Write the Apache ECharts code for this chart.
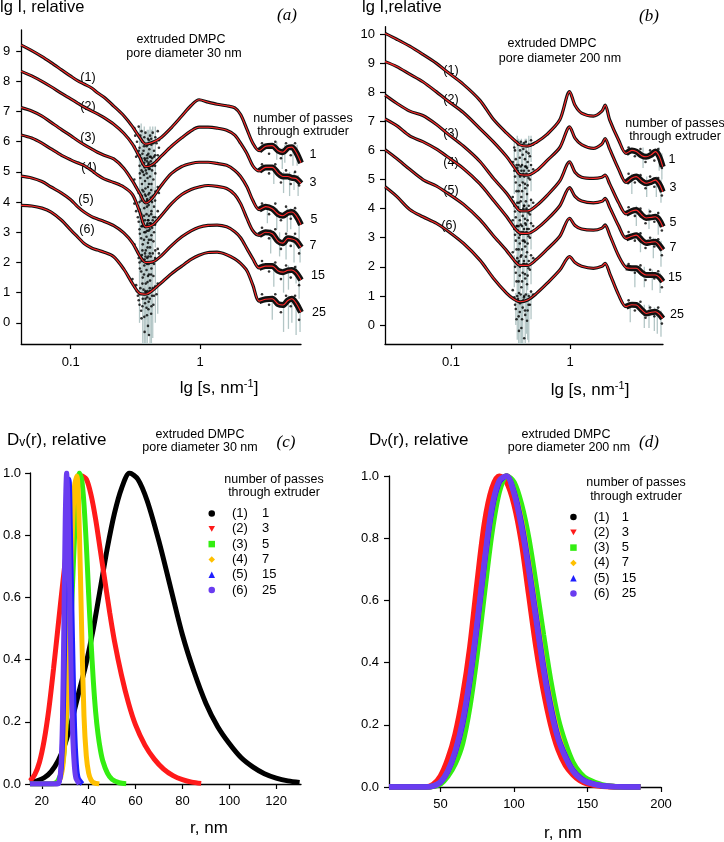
<!DOCTYPE html>
<html><head><meta charset="utf-8">
<script src="https://cdn.jsdelivr.net/npm/echarts@6/dist/echarts.min.js"></script>
<style>html,body{margin:0;padding:0;background:#fff}#chart{width:724px;height:842px}</style>
</head><body><div id="chart"></div>
<script>
const FONT = '"Liberation Sans", Arial, sans-serif';

// ---------- panel (a): extruded DMPC, pore 30 nm ----------
const sA = [0.0415,0.05,0.06,0.0706,0.085,0.1,0.113,0.127,0.145,0.161,0.181,0.215,0.257,0.3,0.34,0.38,0.43,0.5,0.6,0.72,0.85,0.98,1.15,1.35,1.6,1.85,2.05,2.3,2.55,2.85,3.2,3.6,4.0,4.35,4.75,5.1,5.5,6.0];
const a1 = [9.20,9.02,8.82,8.62,8.38,8.17,8.02,7.91,7.78,7.62,7.47,7.18,6.86,6.50,6.15,5.92,5.98,6.14,6.47,6.85,7.20,7.39,7.31,7.24,7.19,7.12,6.90,6.40,5.95,5.70,5.85,5.87,5.70,5.65,5.80,5.82,5.65,5.30];
const a2 = [8.33,8.18,8.00,7.82,7.60,7.42,7.28,7.15,7.02,6.92,6.80,6.58,6.28,5.92,5.50,5.17,5.25,5.52,5.85,6.13,6.36,6.48,6.48,6.45,6.38,6.22,5.95,5.60,5.20,5.03,5.15,5.15,4.95,4.85,4.85,4.80,4.78,4.62];
const a3 = [7.13,7.02,6.85,6.64,6.40,6.20,6.04,5.90,5.76,5.65,5.55,5.43,5.12,4.70,4.30,3.97,4.15,4.55,4.95,5.18,5.28,5.32,5.32,5.28,5.22,5.05,4.85,4.50,4.05,3.75,3.85,3.78,3.60,3.55,3.65,3.67,3.55,3.25];
const a4 = [6.22,6.12,5.95,5.76,5.55,5.40,5.30,5.21,5.05,4.90,4.77,4.65,4.50,4.25,3.70,3.18,3.25,3.55,3.95,4.25,4.42,4.50,4.55,4.52,4.45,4.25,3.95,3.45,3.05,2.90,3.00,2.95,2.70,2.64,2.80,2.78,2.72,2.50];
const a5 = [4.86,4.80,4.68,4.50,4.30,4.08,3.85,3.67,3.52,3.44,3.36,3.22,2.98,2.65,2.23,2.00,2.02,2.22,2.56,2.85,3.05,3.17,3.23,3.24,3.18,3.02,2.82,2.45,2.12,1.82,1.88,1.88,1.72,1.68,1.74,1.75,1.66,1.42];
const a6 = [3.89,3.87,3.80,3.67,3.40,3.08,2.85,2.63,2.48,2.41,2.34,2.19,1.78,1.30,0.98,0.95,1.08,1.33,1.63,1.88,2.10,2.24,2.33,2.34,2.26,2.12,1.97,1.72,1.25,0.72,0.78,0.80,0.62,0.59,0.74,0.80,0.65,0.35];
const noiseA = [
[0.33,6.25],[0.34,5.8],[0.345,6.2],[0.35,5.45],[0.355,6.0],[0.36,5.25],[0.365,5.7],[0.37,6.15],[0.375,5.4],[0.38,5.05],[0.385,5.85],[0.39,5.55],[0.395,6.1],[0.4,5.3],[0.405,5.75],[0.41,6.2],[0.415,5.5],[0.42,5.9],[0.43,6.3],[0.44,5.7],[0.45,6.15],[0.46,5.95],
[0.31,6.45],[0.315,6.2],[0.325,6.0],[0.335,6.5],[0.342,5.55],[0.352,6.35],[0.358,5.6],[0.368,5.85],[0.372,5.15],[0.378,6.3],[0.388,5.35],[0.392,5.9],[0.398,5.6],[0.402,6.05],[0.408,5.1],[0.418,6.1],[0.425,5.45],[0.435,5.95],[0.448,5.55],[0.47,6.35],[0.48,6.05],
[0.33,5.55],[0.34,5.2],[0.345,4.8],[0.35,5.4],[0.355,4.6],[0.36,5.0],[0.365,4.35],[0.37,5.3],[0.375,4.7],[0.38,4.2],[0.385,4.95],[0.39,5.45],[0.395,4.5],[0.4,5.1],[0.405,4.3],[0.41,4.85],[0.415,5.35],[0.42,4.6],[0.43,5.2],[0.44,5.5],[0.45,4.95],[0.46,5.35],
[0.31,5.85],[0.32,5.5],[0.335,5.7],[0.342,4.95],[0.352,5.05],[0.358,4.4],[0.368,4.9],[0.372,5.45],[0.378,4.45],[0.388,4.05],[0.392,4.8],[0.398,5.25],[0.402,4.6],[0.408,5.5],[0.418,4.4],[0.425,5.05],[0.435,4.75],[0.448,5.2],[0.47,5.55],[0.48,5.8],
[0.33,4.4],[0.34,4.0],[0.35,3.6],[0.355,4.2],[0.36,3.35],[0.37,3.8],[0.375,4.25],[0.38,3.2],[0.385,3.6],[0.39,4.1],[0.395,3.4],[0.4,3.9],[0.41,3.3],[0.415,4.15],[0.42,3.7],[0.43,4.2],[0.44,3.85],[0.45,4.35],
[0.31,4.75],[0.32,4.5],[0.335,4.3],[0.342,3.75],[0.352,4.05],[0.358,3.2],[0.368,3.55],[0.372,4.0],[0.378,3.0],[0.388,3.85],[0.392,3.3],[0.398,4.25],[0.402,3.55],[0.408,3.1],[0.418,3.6],[0.425,4.0],[0.435,3.5],[0.448,4.05],[0.47,4.5],[0.48,4.3],
[0.33,3.5],[0.34,3.1],[0.35,2.8],[0.355,3.35],[0.36,2.6],[0.37,3.0],[0.375,3.4],[0.38,2.4],[0.385,2.85],[0.39,3.25],[0.395,2.65],[0.4,3.05],[0.41,2.5],[0.415,3.3],[0.42,2.9],[0.43,3.4],[0.44,3.0],[0.45,3.5],
[0.31,3.95],[0.32,3.7],[0.335,3.35],[0.342,2.95],[0.352,3.2],[0.358,2.4],[0.368,2.75],[0.372,3.2],[0.378,2.2],[0.388,3.05],[0.392,2.5],[0.398,3.4],[0.402,2.75],[0.408,2.3],[0.418,2.75],[0.425,3.15],[0.435,2.7],[0.448,3.25],[0.47,3.7],[0.48,3.5],
[0.33,2.35],[0.34,2.0],[0.35,1.7],[0.355,2.25],[0.36,1.5],[0.37,1.9],[0.375,2.3],[0.38,1.3],[0.385,1.75],[0.39,2.15],[0.395,1.55],[0.4,1.95],[0.41,1.4],[0.415,2.2],[0.42,1.8],[0.43,2.3],[0.44,1.95],[0.45,2.4],
[0.31,2.6],[0.32,2.45],[0.335,2.15],[0.342,1.8],[0.352,2.05],[0.358,1.3],[0.368,1.6],[0.372,2.1],[0.378,1.05],[0.388,1.95],[0.392,1.35],[0.398,2.2],[0.402,1.6],[0.408,1.15],[0.418,1.6],[0.425,2.0],[0.435,1.55],[0.448,2.15],[0.47,2.45],[0.48,2.3],
[0.32,1.25],[0.33,0.9],[0.34,0.6],[0.345,1.15],[0.35,0.4],[0.36,0.8],[0.365,1.1],[0.37,0.2],[0.375,0.65],[0.38,1.0],[0.385,0.5],[0.39,0.85],[0.395,-0.1],[0.4,0.7],[0.41,1.05],[0.42,0.55],[0.43,1.15],[0.44,0.9],
[0.3,1.45],[0.31,1.2],[0.325,1.05],[0.335,0.75],[0.342,0.95],[0.352,0.15],[0.358,0.55],[0.368,0.95],[0.372,-0.3],[0.378,0.8],[0.388,0.25],[0.392,1.05],[0.398,0.45],[0.402,-0.4],[0.408,0.8],[0.418,0.3],[0.425,0.9],[0.435,0.6],[0.448,1.2],[0.46,0.95],[0.47,1.3],
[3.0,5.95],[3.4,5.6],[3.8,6.0],[4.2,5.45],[4.6,5.95],[5.0,5.55],[5.4,5.95],[5.8,5.5],
[3.0,5.25],[3.4,4.95],[3.8,5.25],[4.2,4.65],[4.6,5.05],[5.0,4.6],[5.4,5.0],[5.8,4.55],
[3.0,3.95],[3.4,3.6],[3.8,3.95],[4.2,3.4],[4.6,3.85],[5.0,3.45],[5.4,3.8],[5.8,3.3],
[3.0,3.15],[3.4,2.8],[3.8,3.1],[4.2,2.45],[4.6,2.95],[5.0,2.55],[5.4,2.95],[5.8,2.3],
[3.0,2.05],[3.4,1.7],[3.8,2.0],[4.2,1.45],[4.6,1.9],[5.0,1.5],[5.4,1.85],[5.8,1.25],
[3.0,0.95],[3.4,0.6],[3.8,0.95],[4.2,0.35],[4.6,0.9],[5.0,0.55],[5.4,0.9],[5.8,0.1]
];
const errA = [
[0.35,5.0,6.6],[0.37,4.7,6.5],[0.39,4.9,6.4],[0.41,5.0,6.5],[0.43,5.3,6.5],
[0.34,5.3,6.5],[0.36,4.6,6.4],[0.38,4.5,6.3],[0.40,4.6,6.4],[0.42,4.9,6.4],[0.45,5.4,6.5],
[0.35,4.1,5.8],[0.37,3.9,5.7],[0.39,3.7,5.8],[0.41,4.0,5.7],[0.43,4.3,5.7],
[0.34,4.4,5.7],[0.36,3.6,5.6],[0.38,3.4,5.6],[0.40,3.5,5.6],[0.42,3.9,5.6],[0.45,4.4,5.6],
[0.35,2.9,4.5],[0.37,2.7,4.5],[0.39,2.6,4.4],[0.41,2.8,4.4],[0.43,3.1,4.5],
[0.34,3.3,4.5],[0.36,2.5,4.4],[0.38,2.3,4.4],[0.40,2.4,4.4],[0.42,2.7,4.4],[0.45,3.3,4.5],
[0.35,2.1,3.7],[0.37,1.9,3.6],[0.39,1.7,3.6],[0.41,1.9,3.6],[0.43,2.3,3.6],
[0.34,2.4,3.6],[0.36,1.6,3.5],[0.38,1.3,3.5],[0.40,1.5,3.5],[0.42,1.9,3.5],[0.45,2.5,3.6],
[0.35,0.9,2.5],[0.37,0.6,2.5],[0.39,0.5,2.4],[0.41,0.7,2.4],[0.43,1.1,2.5],
[0.34,1.2,2.4],[0.36,0.4,2.4],[0.38,0.1,2.3],[0.40,0.3,2.3],[0.42,0.7,2.4],[0.45,1.3,2.4],
[0.36,-0.7,1.3],[0.38,-0.7,1.2],[0.40,-0.4,1.2],[0.42,-0.7,1.3],[0.45,0.0,1.3],
[0.34,0.0,1.2],[0.37,-0.7,1.1],[0.39,-0.7,1.1],[0.41,-0.7,1.1],[0.43,-0.5,1.2],[0.47,0.3,1.3],
[4.5,5.3,5.9],[5.6,5.2,5.9],[3.9,5.4,6.0],[4.3,5.1,5.8],[5.2,5.2,5.9],
[4.4,4.3,5.0],[5.7,4.2,4.9],[3.7,4.6,5.2],[4.9,4.2,5.0],[5.3,4.4,5.0],
[3.3,3.3,3.9],[5.0,3.1,3.8],[3.9,3.1,3.8],[4.7,3.0,3.8],[5.8,2.7,3.4],
[4.1,2.2,3.0],[5.9,2.0,2.7],[3.5,2.3,3.1],[4.6,2.1,2.9],[5.3,2.0,2.9],
[4.8,1.1,1.9],[5.5,1.3,1.9],[3.7,1.2,2.0],[4.4,1.0,1.8],[5.8,0.8,1.5],
[4.8,-0.2,0.9],[5.1,0.0,0.9],[5.9,-0.3,0.6],[3.6,0.1,0.9],[4.4,-0.3,0.7],[5.5,-0.4,0.8]
];

// ---------- panel (b): extruded DMPC, pore 200 nm ----------
const sB = [0.028,0.035,0.045,0.058,0.075,0.092,0.127,0.175,0.226,0.294,0.34,0.38,0.44,0.52,0.64,0.82,0.99,1.1,1.25,1.57,1.85,1.97,2.15,2.56,2.95,3.3,3.6,4.0,4.35,4.8,5.2,5.6,6.0];
const b1 = [10.02,9.82,9.58,9.30,9.00,8.71,8.27,7.72,7.08,6.59,6.35,6.19,6.15,6.28,6.55,7.05,8.02,7.55,7.28,7.18,7.35,7.56,7.05,6.35,5.90,6.00,5.96,5.82,5.78,5.85,5.96,5.80,5.44];
const b2 = [9.05,8.88,8.62,8.36,8.02,7.73,7.30,6.75,6.30,5.78,5.42,5.17,5.15,5.30,5.65,6.10,6.81,6.42,6.20,6.07,6.22,6.41,6.05,5.35,4.90,5.05,5.10,4.95,4.87,4.92,4.98,4.85,4.58];
const b3 = [7.90,7.62,7.35,7.20,6.90,6.60,6.15,5.62,5.05,4.52,4.15,3.93,3.92,4.10,4.45,4.95,5.61,5.25,5.08,5.04,5.08,5.15,4.85,4.20,3.82,3.92,3.95,3.78,3.68,3.70,3.72,3.62,3.38];
const b4 = [7.08,6.85,6.50,6.30,6.05,5.80,5.38,4.85,4.30,3.72,3.35,3.16,3.15,3.30,3.62,4.10,4.72,4.42,4.26,4.20,4.25,4.35,4.05,3.40,2.98,3.05,3.09,2.92,2.82,2.85,2.86,2.75,2.58];
const b5 = [6.02,5.72,5.35,5.00,4.78,4.55,4.15,3.62,3.08,2.55,2.22,2.05,2.05,2.25,2.60,3.05,3.67,3.42,3.30,3.26,3.33,3.44,3.10,2.37,1.98,1.95,1.95,1.80,1.72,1.72,1.72,1.65,1.49];
const b6 = [4.75,4.42,3.97,3.72,3.50,3.26,2.81,2.23,1.62,1.09,0.88,0.80,0.86,1.08,1.43,1.89,2.35,2.15,2.02,1.95,2.02,2.12,1.78,1.03,0.63,0.70,0.69,0.52,0.40,0.44,0.46,0.38,0.23];
const noiseB = [
[0.34,6.1],[0.35,5.7],[0.36,6.3],[0.37,5.5],[0.38,6.0],[0.39,5.3],[0.4,5.85],[0.41,6.25],[0.42,5.45],[0.43,5.95],[0.44,5.6],[0.45,6.2],[0.46,5.8],
[0.33,6.4],[0.345,6.0],[0.355,5.5],[0.365,6.2],[0.372,5.2],[0.378,5.75],[0.385,6.3],[0.395,5.5],[0.405,6.05],[0.412,5.1],[0.418,5.7],[0.425,6.3],[0.435,5.4],[0.448,5.9],[0.47,6.35],[0.49,6.2],
[0.34,5.3],[0.35,4.9],[0.36,5.4],[0.37,4.6],[0.38,5.1],[0.39,4.4],[0.4,4.9],[0.41,5.3],[0.42,4.7],[0.43,5.2],[0.44,4.8],[0.45,5.3],[0.46,5.0],
[0.33,5.6],[0.345,5.1],[0.355,4.6],[0.365,5.3],[0.372,4.2],[0.378,4.8],[0.385,5.45],[0.395,4.6],[0.405,5.2],[0.412,4.1],[0.418,4.85],[0.425,5.45],[0.435,4.5],[0.448,5.05],[0.47,5.5],[0.49,5.35],
[0.34,4.1],[0.35,3.7],[0.36,4.2],[0.37,3.4],[0.38,3.9],[0.39,3.2],[0.4,3.75],[0.41,4.1],[0.42,3.5],[0.43,4.0],[0.44,3.6],[0.45,4.1],[0.46,3.8],
[0.33,4.4],[0.345,3.9],[0.355,3.4],[0.365,4.05],[0.372,3.0],[0.378,3.6],[0.385,4.25],[0.395,3.4],[0.405,4.0],[0.412,2.9],[0.418,3.65],[0.425,4.25],[0.435,3.3],[0.448,3.85],[0.47,4.3],[0.49,4.2],
[0.34,3.3],[0.35,2.9],[0.36,3.4],[0.37,2.6],[0.38,3.1],[0.39,2.4],[0.4,2.9],[0.41,3.3],[0.42,2.7],[0.43,3.2],[0.44,2.8],[0.45,3.3],[0.46,3.0],
[0.33,3.6],[0.345,3.1],[0.355,2.6],[0.365,3.25],[0.372,2.2],[0.378,2.8],[0.385,3.45],[0.395,2.6],[0.405,3.2],[0.412,2.1],[0.418,2.85],[0.425,3.45],[0.435,2.5],[0.448,3.05],[0.47,3.5],[0.49,3.4],
[0.34,2.2],[0.35,1.8],[0.36,2.3],[0.37,1.5],[0.38,2.0],[0.39,1.3],[0.4,1.8],[0.41,2.2],[0.42,1.6],[0.43,2.1],[0.44,1.7],[0.45,2.2],[0.46,1.9],
[0.33,2.5],[0.345,2.0],[0.355,1.5],[0.365,2.15],[0.372,1.1],[0.378,1.7],[0.385,2.35],[0.395,1.5],[0.405,2.1],[0.412,1.0],[0.418,1.75],[0.425,2.35],[0.435,1.4],[0.448,1.95],[0.47,2.4],[0.49,2.3],
[0.34,0.95],[0.35,0.55],[0.36,1.0],[0.37,0.3],[0.38,0.75],[0.39,-0.1],[0.4,0.6],[0.41,0.95],[0.42,0.35],[0.43,0.85],[0.44,0.5],[0.45,1.0],[0.46,0.7],
[0.33,1.2],[0.345,0.7],[0.355,0.2],[0.365,0.9],[0.372,-0.2],[0.378,0.45],[0.385,1.05],[0.395,0.2],[0.405,0.85],[0.412,-0.45],[0.418,0.5],[0.425,1.05],[0.435,0.15],[0.448,0.7],[0.47,1.15],[0.49,1.05],
[3.1,6.1],[3.5,5.8],[3.9,6.05],[4.3,5.6],[4.7,6.0],[5.1,5.65],[5.5,6.05],[5.9,5.4],
[3.1,5.2],[3.5,4.9],[3.9,5.15],[4.3,4.7],[4.7,5.1],[5.1,4.75],[5.5,5.05],[5.9,4.45],
[3.1,4.05],[3.5,3.75],[3.9,4.0],[4.3,3.5],[4.7,3.9],[5.1,3.55],[5.5,3.85],[5.9,3.25],
[3.1,3.2],[3.5,2.9],[3.9,3.15],[4.3,2.65],[4.7,3.0],[5.1,2.7],[5.5,2.95],[5.9,2.4],
[3.1,2.1],[3.5,1.8],[3.9,2.05],[4.3,1.55],[4.7,1.9],[5.1,1.6],[5.5,1.85],[5.9,1.3],
[3.1,0.85],[3.5,0.5],[3.9,0.8],[4.3,0.25],[4.7,0.6],[5.1,0.3],[5.5,0.6],[5.9,0.05]
];
const errB = [
[0.36,5.0,6.5],[0.39,4.9,6.4],[0.42,5.1,6.4],[0.45,5.4,6.5],
[0.34,5.4,6.4],[0.37,4.8,6.4],[0.40,4.7,6.3],[0.43,5.0,6.4],[0.47,5.6,6.5],
[0.36,4.0,5.6],[0.38,3.6,5.5],[0.41,3.9,5.5],[0.44,4.3,5.5],
[0.34,4.5,5.5],[0.37,3.9,5.5],[0.40,3.7,5.4],[0.43,4.0,5.4],[0.47,4.6,5.5],
[0.36,2.8,4.3],[0.38,2.5,4.2],[0.41,2.8,4.2],[0.44,3.1,4.3],
[0.34,3.3,4.3],[0.37,2.6,4.2],[0.40,2.4,4.2],[0.43,2.8,4.2],[0.47,3.4,4.3],
[0.36,2.0,3.5],[0.38,1.7,3.4],[0.41,2.0,3.4],[0.44,2.4,3.5],
[0.34,2.5,3.5],[0.37,1.8,3.4],[0.40,1.6,3.4],[0.43,2.0,3.4],[0.47,2.6,3.5],
[0.36,0.9,2.4],[0.38,0.6,2.3],[0.41,0.9,2.3],[0.44,1.2,2.4],
[0.34,1.3,2.4],[0.37,0.6,2.3],[0.40,0.4,2.3],[0.43,0.8,2.3],[0.47,1.4,2.4],
[0.36,-0.5,1.1],[0.38,-0.7,1.0],[0.40,-0.7,1.0],[0.43,-0.3,1.1],[0.45,-0.6,1.1],
[0.35,0.0,1.1],[0.37,-0.7,1.0],[0.39,-0.7,1.0],[0.42,-0.7,1.0],[0.44,-0.5,1.1],[0.47,0.2,1.2],
[5.6,5.3,6.1],[4.1,5.4,6.1],[5.9,5.0,5.9],
[4.4,4.4,5.1],[5.8,4.2,5.0],[3.3,4.5,5.2],[5.3,4.4,5.1],
[4.6,3.3,4.0],[3.6,3.4,4.1],[5.5,3.1,3.9],
[5.0,2.3,3.0],[3.9,2.5,3.2],[5.8,2.0,2.9],
[4.2,1.3,2.0],[5.7,1.1,1.8],[3.5,1.3,2.0],[4.9,1.2,1.9],
[4.2,-0.1,0.7],[5.1,-0.2,0.6],[5.8,-0.4,0.5],[3.2,0.1,0.8],[4.6,-0.1,0.7],[5.4,-0.3,0.6]
];

// ---------- panel (c): Dv(r), pore 30 nm ----------
const rC1 = [15,18,21,24,27,30,33,36,39,42,45,48,51,54,57.5,61,65,70,75,80,85,90,95,100,105,110,115,120,125,130];
const vC1 = [0.004,0.01,0.02,0.04,0.075,0.13,0.21,0.30,0.39,0.50,0.63,0.76,0.87,0.95,1.0,0.98,0.91,0.78,0.63,0.48,0.36,0.26,0.185,0.13,0.085,0.055,0.033,0.019,0.01,0.005];
const rC2 = [15,17,19,21,23,25,27,29,31,33,35,37,39,41,43,45,47,49,51,54,57,60,64,68,72,76,80,84,88];
const vC2 = [0.01,0.03,0.07,0.14,0.24,0.37,0.51,0.65,0.78,0.89,0.96,0.99,0.98,0.93,0.85,0.75,0.65,0.55,0.46,0.35,0.26,0.19,0.125,0.08,0.048,0.027,0.014,0.006,0.002];
const rC3 = [15,24,26,27,28,29,30,31,32,33,34,35,36,37,38,39,40,41,42,43,44,45,46,48,50,53,56];
const vC3 = [0,0,0.004,0.012,0.03,0.07,0.15,0.28,0.44,0.62,0.8,0.94,1.0,0.98,0.9,0.77,0.61,0.46,0.33,0.23,0.16,0.11,0.075,0.035,0.015,0.004,0.001];
const rC4 = [15,26,27,28,29,30,31,32,33,34,35,36,37,38,39,40,41,42,44.5];
const vC4 = [0,0,0.005,0.02,0.06,0.15,0.32,0.56,0.8,0.96,0.99,0.82,0.5,0.22,0.09,0.035,0.013,0.005,0];
const rC5 = [15,26.5,27.5,28.3,29,29.7,30.4,31,31.6,32.2,32.8,33.4,34,34.7,35.5,37.3];
const vC5 = [0,0,0.01,0.05,0.17,0.42,0.75,0.97,0.98,0.82,0.58,0.36,0.18,0.07,0.02,0];
const rC6 = [15,26.5,27.5,28.2,28.8,29.4,30,30.6,31.2,31.8,32.4,33,33.7,34.5,36];
const vC6 = [0,0,0.01,0.06,0.2,0.5,0.85,1.0,0.9,0.65,0.4,0.2,0.08,0.02,0];

// ---------- panel (d): Dv(r), pore 200 nm ----------
const rD  = [15,40,45,50,55,60,65,70,75,80,85,90,95,100,105,110,115,120,125,130,135,140,145,150,160,170,186];
const vD1 = [0,0,0.003,0.014,0.048,0.108,0.2,0.34,0.52,0.72,0.89,0.98,1.0,0.95,0.85,0.71,0.55,0.39,0.26,0.16,0.1,0.055,0.03,0.016,0.004,0.001,0];
const vD2 = [0,0,0.008,0.035,0.09,0.17,0.29,0.45,0.66,0.85,0.96,1.0,0.98,0.91,0.79,0.62,0.45,0.31,0.2,0.12,0.07,0.04,0.02,0.01,0.002,0,0];
const vD3 = [0,0,0.002,0.01,0.035,0.075,0.14,0.26,0.43,0.63,0.82,0.95,1.0,0.98,0.91,0.8,0.65,0.49,0.34,0.22,0.14,0.08,0.045,0.025,0.007,0.001,0];
const vD4 = [0,0,0.003,0.015,0.05,0.11,0.2,0.34,0.52,0.72,0.89,0.98,1.0,0.95,0.86,0.72,0.56,0.4,0.27,0.17,0.1,0.056,0.03,0.016,0.004,0.001,0];
const vD5 = [0,0,0.003,0.015,0.05,0.11,0.2,0.34,0.52,0.72,0.89,0.98,1.0,0.95,0.85,0.71,0.55,0.39,0.26,0.16,0.1,0.055,0.03,0.016,0.004,0.001,0];
const vD6 = [0,0,0.003,0.016,0.052,0.115,0.21,0.35,0.53,0.73,0.9,0.985,1.0,0.945,0.84,0.7,0.54,0.38,0.25,0.155,0.095,0.052,0.028,0.015,0.004,0.001,0];

// ---------- ticks / labels ----------
const yTicksA = [0,1,2,3,4,5,6,7,8,9];
const yTicksB = [0,1,2,3,4,5,6,7,8,9,10];
const xTicksC = [20,40,60,80,100,120];
const xTicksD = [50,100,150,200];
const yTicksCD = [0,0.2,0.4,0.6,0.8,1.0];
const curveTags = ['(1)','(2)','(3)','(4)','(5)','(6)'];
const passes = ['1','3','5','7','15','25'];
const distColors = ['#000000','#ff1a1a','#33ee11','#ffc000','#1f1fff','#6a3cf0'];
const distIcons = ['circle','path://M0,0L10,0L5,9Z','rect','diamond','triangle','circle'];

const zip = (xs, ys) => xs.map((x, i) => [x, ys[i]]);

const chart = echarts.init(document.getElementById('chart'), null, {renderer: 'canvas'});

const axLine = {onZero: false, lineStyle: {color: '#000', width: 1.3}};
const axTick = {length: 5, lineStyle: {color: '#000', width: 1.2}};
const lab = {color: '#000', fontSize: 13, fontFamily: FONT};

function errRender(params, api) {
  const s = api.value(0), lo = api.value(1), hi = api.value(2);
  const p1 = api.coord([s, lo]), p2 = api.coord([s, hi]);
  return {type: 'line', shape: {x1: p1[0], y1: p1[1], x2: p2[0], y2: p2[1]},
    style: {stroke: '#b3c6c6', lineWidth: 1.3}};
}

const series = [];
function addSaxs(idx, s, curves, noise, err, hiStart) {
  series.push({type: 'custom', xAxisIndex: idx, yAxisIndex: idx, data: err, renderItem: errRender,
    clip: true, silent: true, z: 1, encode: {x: 0, y: [1, 2]}});
  series.push({type: 'scatter', xAxisIndex: idx, yAxisIndex: idx, data: noise, symbolSize: 2.6,
    itemStyle: {color: '#000'}, silent: true, z: 2});
  curves.forEach(c => series.push({type: 'line', xAxisIndex: idx, yAxisIndex: idx, data: zip(s, c),
    showSymbol: false, smooth: 0.3, lineStyle: {color: '#111', width: 3.2}, silent: true, z: 3}));
  // noisy high-s data band (same measured curves, drawn wider)
  curves.forEach(c => series.push({type: 'line', xAxisIndex: idx, yAxisIndex: idx,
    data: zip(s.slice(hiStart), c.slice(hiStart)),
    showSymbol: false, smooth: 0.3, lineStyle: {color: '#111', width: 6}, silent: true, z: 3}));
  curves.forEach(c => series.push({type: 'line', xAxisIndex: idx, yAxisIndex: idx, data: zip(s, c),
    showSymbol: false, smooth: 0.3, lineStyle: {color: '#ff2a2a', width: 1.1}, silent: true, z: 4}));
}
addSaxs(0, sA, [a1, a2, a3, a4, a5, a6], noiseA, errA, 29);
addSaxs(1, sB, [b1, b2, b3, b4, b5, b6], noiseB, errB, 24);

const cR = [rC1, rC2, rC3, rC4, rC5, rC6], cV = [vC1, vC2, vC3, vC4, vC5, vC6];
cR.forEach((r, i) => series.push({name: 'c' + (i + 1), type: 'line', xAxisIndex: 2, yAxisIndex: 2,
  data: zip(r, cV[i]), showSymbol: false, smooth: 0.3, silent: true,
  itemStyle: {color: distColors[i]}, lineStyle: {color: distColors[i], width: 5}, z: 3 + i}));
const dV = [vD1, vD2, vD3, vD4, vD5, vD6];
dV.forEach((v, i) => series.push({name: 'd' + (i + 1), type: 'line', xAxisIndex: 3, yAxisIndex: 3,
  data: zip(rD, v), showSymbol: false, smooth: 0.3, silent: true,
  itemStyle: {color: distColors[i]}, lineStyle: {color: distColors[i], width: 5.5}, z: 3 + i}));

function legendFor(prefix, left, top, colW) {
  return {
    left: left, top: top, orient: 'vertical', padding: 0, itemWidth: 6.5, itemHeight: 6.5, itemGap: 0.3,
    selectedMode: false,
    data: curveTags.map((t, i) => ({name: prefix + (i + 1), icon: distIcons[i]})),
    formatter: n => { const i = +n.slice(1) - 1; return '{s|}{a|' + curveTags[i] + '}{b|' + passes[i] + '}'; },
    textStyle: {color: '#000', fontSize: 13, fontFamily: FONT, lineHeight: 15,
      rich: {s: {width: 12, lineHeight: 15}, a: {width: colW, fontSize: 13, fontFamily: FONT, lineHeight: 15},
             b: {fontSize: 13, fontFamily: FONT, lineHeight: 15}}}
  };
}

function T(text, x, y, size, align, font) {
  return {type: 'text', silent: true, style: {text: text, x: x, y: y,
    font: font || (size + 'px ' + FONT), fill: '#000',
    textAlign: align || 'center', align: align || 'center', textVerticalAlign: 'middle', verticalAlign: 'middle'}};
}
function R(text, x, y, rich, align) {
  return {type: 'text', silent: true, style: {text: text, x: x, y: y, rich: rich, fill: '#000',
    font: '17px ' + FONT,
    textAlign: align || 'center', align: align || 'center', textVerticalAlign: 'middle', verticalAlign: 'middle'}};
}
const richS = {m: {font: '17px ' + FONT}, s: {font: '11px ' + FONT, padding: [0, 0, 9, 0]}};
const richD = {D: {font: '17px ' + FONT}, v: {font: '12px ' + FONT, padding: [5, 0, 0, 0]}, m: {font: '17px ' + FONT}};
const ital = 'italic 17px "Liberation Serif", "Times New Roman", serif';

const graphics = [
  T('lg I, relative', 0, 7, 16.5, 'left'),
  T('(a)', 287, 16, 17, 'center', ital),
  T('extruded DMPC', 181, 40, 12.5), T('pore diameter 30 nm', 184, 54, 12.5),
  T('number of passes', 303, 119, 12.5), T('through extruder', 303, 132, 12.5),
  T('lg I,relative', 362, 7, 16.5, 'left'),
  T('(b)', 649, 17, 17, 'center', ital),
  T('extruded DMPC', 552, 44, 12.5), T('pore diameter 200 nm', 560, 59, 12.5),
  T('number of passes', 675, 124, 12.5), T('through extruder', 675, 137, 12.5),
  R('{m|lg [s, nm}{s|-1}{m|]}', 219, 388, richS),
  R('{m|lg [s, nm}{s|-1}{m|]}', 590, 390, richS),
  R('{D|D}{v|v}{m|(r), relative}', 7, 440, richD, 'left'),
  R('{D|D}{v|v}{m|(r), relative}', 369, 440, richD, 'left'),
  T('extruded DMPC', 200, 435, 12.5), T('pore diameter 30 nm', 200, 448, 12.5),
  T('extruded DMPC', 566, 435, 12.5), T('pore diameter 200 nm', 569, 448, 12.5),
  T('(c)', 286, 443, 17, 'center', ital), T('(d)', 649, 443, 17, 'center', ital),
  T('number of passes', 274, 480, 12.5), T('through extruder', 274, 493, 12.5),
  T('number of passes', 636, 483, 12.5), T('through extruder', 636, 497, 12.5),
  T('r, nm', 209, 828, 17), T('r, nm', 563, 833, 17)
];
const tagPosA = [[88,78],[88,107],[88,138],[89,168],[86,200],[87,230]];
const tagPosB = [[451,71],[451,100],[451,134],[451,163],[451,191],[449,226]];
const passPosA = [[313,155],[313,183],[314,220],[313,246],[318,276],[319,313]];
const passPosB = [[672,160],[673,188],[673,223],[673,248],[675,278],[677,315]];
curveTags.forEach((t, i) => {
  graphics.push(T(t, tagPosA[i][0], tagPosA[i][1], 12.5));
  graphics.push(T(t, tagPosB[i][0], tagPosB[i][1], 12.5));
  graphics.push(T(passes[i], passPosA[i][0], passPosA[i][1], 12.5));
  graphics.push(T(passes[i], passPosB[i][0], passPosB[i][1], 12.5));
});

const option = {
  animation: false,
  backgroundColor: '#fff',
  grid: [
    {left: 18, top: 30, width: 283, height: 314},
    {left: 385, top: 26.7, width: 278, height: 317.3},
    {left: 27, top: 473, width: 274, height: 311},
    {left: 389, top: 476, width: 272, height: 311}
  ],
  xAxis: [
    {gridIndex: 0, type: 'log', logBase: 10, min: 0.0415, max: 6.0, axisLine: axLine, axisTick: axTick,
      axisLabel: Object.assign({margin: 12, showMinLabel: false, showMaxLabel: false}, lab), splitLine: {show: false}},
    {gridIndex: 1, type: 'log', logBase: 10, min: 0.0279, max: 6.03, axisLine: axLine, axisTick: axTick,
      axisLabel: Object.assign({margin: 12, showMinLabel: false, showMaxLabel: false}, lab), splitLine: {show: false}},
    {gridIndex: 2, type: 'value', min: 15, max: 130.6, splitNumber: 6, axisLine: axLine,
      axisTick: Object.assign({customValues: xTicksC}, axTick),
      axisLabel: Object.assign({margin: 11, customValues: xTicksC}, lab), splitLine: {show: false}},
    {gridIndex: 3, type: 'value', min: 15, max: 200, splitNumber: 4, axisLine: axLine,
      axisTick: Object.assign({customValues: xTicksD}, axTick),
      axisLabel: Object.assign({margin: 11, customValues: xTicksD}, lab), splitLine: {show: false}}
  ],
  yAxis: [
    {gridIndex: 0, type: 'value', min: -0.7, max: 9.7, splitNumber: 10, axisLine: axLine,
      axisTick: Object.assign({customValues: yTicksA}, axTick),
      axisLabel: Object.assign({margin: 11, customValues: yTicksA}, lab), splitLine: {show: false}},
    {gridIndex: 1, type: 'value', min: -0.65, max: 10.25, splitNumber: 10, axisLine: axLine,
      axisTick: Object.assign({customValues: yTicksB}, axTick),
      axisLabel: Object.assign({margin: 10, customValues: yTicksB}, lab), splitLine: {show: false}},
    {gridIndex: 2, type: 'value', min: 0, max: 1, interval: 0.2, axisLine: axLine,
      axisTick: Object.assign({customValues: yTicksCD}, axTick),
      axisLabel: Object.assign({margin: 9, customValues: yTicksCD, formatter: v => (+v).toFixed(1)}, lab), splitLine: {show: false}},
    {gridIndex: 3, type: 'value', min: 0, max: 1, interval: 0.2, axisLine: axLine,
      axisTick: Object.assign({customValues: yTicksCD}, axTick),
      axisLabel: Object.assign({margin: 10, customValues: yTicksCD, formatter: v => (+v).toFixed(1)}, lab), splitLine: {show: false}}
  ],
  legend: [legendFor('c', 208.5, 506, 30), legendFor('d', 570.2, 509.5, 28)],
  series: series,
  graphic: graphics
};
chart.setOption(option);
</script></body></html>
